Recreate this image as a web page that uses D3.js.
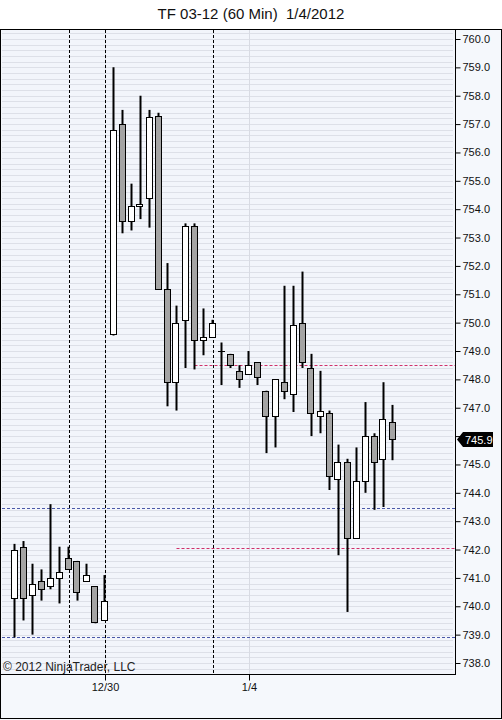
<!DOCTYPE html>
<html><head><meta charset="utf-8">
<script src="https://cdn.jsdelivr.net/npm/d3@7"></script>
<style>html,body{margin:0;padding:0;background:#fff;}svg{display:block;font-family:"Liberation Sans",Arial,sans-serif;}</style>
</head><body>
<svg id="c" width="502" height="720"></svg>
<script>
// Data (60 min bars, TF 03-12)
const opens  = [740.3,742.1,740.4,740.9,740.7,741.0,741.7,741.6,740.9,740.7,739.5,749.6,757.0,753.6,754.1,754.4,757.3,751.2,747.9,750.1,753.4,749.4,749.5,749.0,748.9,748.3,748.2,748.6,747.6,746.7,747.9,747.5,750.0,748.4,746.7,746.8,744.5,745.1,742.4,744.4,746.0,745.2,746.5];
const highs  = [742.2,742.3,741.5,741.3,743.6,742.1,742.1,741.6,741.5,740.7,741.1,759.0,757.5,754.9,758.0,757.5,757.4,752.1,750.6,753.5,753.5,750.5,750.1,749.3,748.9,748.5,749.0,748.6,747.6,748.0,751.3,751.3,751.8,748.9,748.3,746.9,745.7,745.2,745.6,747.2,746.1,747.9,747.1];
const lows   = [738.9,739.5,739.0,740.2,740.6,740.1,741.3,740.2,740.9,739.4,739.5,749.55,753.15,753.25,753.65,753.35,751.15,747.05,746.9,748.4,748.35,748.85,749.5,747.8,748.4,747.7,748.2,747.8,745.4,745.6,747.3,746.85,748.4,746.0,746.1,744.1,741.8,739.8,742.4,744.0,743.4,743.5,745.15];
const closes = [742.0,740.3,740.8,740.6,741.0,741.2,741.3,740.5,741.1,739.45,740.2,756.8,753.6,754.1,754.2,757.25,751.2,747.9,750.0,753.4,749.4,749.5,750.0,749.0,748.5,748.0,748.5,748.1,746.7,748.0,747.6,749.9,748.6,746.8,746.9,744.6,745.1,742.4,744.4,746.0,745.1,746.6,745.9];
const yTicks = d3.range(738, 760.001, 1);
const xTickIdx = [10, 26];
const xTickLabels = ["12/30", "1/4"];
const sessionBreaks = [6, 10, 22];
const blueLines = [743.45, 738.93];
const redLines = [{price: 748.52, from: 20}, {price: 742.04, from: 18}];
const lastPrice = 745.9;
const title = "TF 03-12 (60 Min)  1/4/2012";
const copyright = "\u00A9 2012 NinjaTrader, LLC";

const svg = d3.select("#c");
const L = 2, R = 455, T = 30, B = 674;
const x = d3.scaleLinear().domain([0, 42]).range([14.5, 392.5]);
const y = d3.scaleLinear().domain([738, 760]).range([663, 39]);

// backgrounds
svg.append("rect").attr("x",0).attr("y",0).attr("width",502).attr("height",720).attr("fill","#f5f8fc");
svg.append("rect").attr("x",0).attr("y",0).attr("width",502).attr("height",29).attr("fill","#ffffff");
svg.append("rect").attr("x",L).attr("y",T).attr("width",R-L).attr("height",B-T).attr("fill","#f2f5fb");

// horizontal grid every 0.2
const gridVals = d3.range(0, 121).map(k => 737.6 + k*0.2);
svg.append("g").selectAll("line").data(gridVals.filter(v => y(v) > T+1 && y(v) < B-1)).join("line")
  .attr("x1", L).attr("x2", R-2).attr("y1", d => Math.round(y(d))+0.5).attr("y2", d => Math.round(y(d))+0.5)
  .attr("stroke", "#dde0e8").attr("stroke-width", 1);
// vertical grid at time ticks
svg.append("g").selectAll("line").data(xTickIdx).join("line")
  .attr("x1", d => Math.round(x(d))+0.5).attr("x2", d => Math.round(x(d))+0.5).attr("y1", T).attr("y2", B)
  .attr("stroke", "#d8dbe3");

// blue dashed lines
svg.append("g").selectAll("line").data(blueLines).join("line")
  .attr("x1", L).attr("x2", R).attr("y1", d => Math.round(y(d))+0.5).attr("y2", d => Math.round(y(d))+0.5)
  .attr("stroke", "#4a58a8").attr("stroke-dasharray", "3,2");
// red dashed lines
svg.append("g").selectAll("line").data(redLines).join("line")
  .attr("x1", d => x(d.from)).attr("x2", R).attr("y1", d => Math.round(y(d.price))+0.5).attr("y2", d => Math.round(y(d.price))+0.5)
  .attr("stroke", "#d0306a").attr("stroke-width", 1.2).attr("stroke-dasharray", "3,2");

// session break dashed verticals
svg.append("g").selectAll("line").data(sessionBreaks).join("line")
  .attr("x1", d => Math.round(x(d))+0.5).attr("x2", d => Math.round(x(d))+0.5).attr("y1", T).attr("y2", B)
  .attr("stroke", "#000").attr("stroke-dasharray", "3,2");

// candles
const bars = d3.range(opens.length).map(i => ({i, o: opens[i], h: highs[i], l: lows[i], c: closes[i]}));
const g = svg.append("g");
g.selectAll("line.wick").data(bars).join("line").attr("class","wick")
  .attr("x1", d => x(d.i)).attr("x2", d => x(d.i))
  .attr("y1", d => y(d.h)).attr("y2", d => y(d.l))
  .attr("stroke", "#000").attr("stroke-width", 2);
g.selectAll("rect.body").data(bars).join("rect").attr("class","body")
  .attr("x", d => Math.round(x(d.i)) - 3.5)
  .attr("y", d => Math.round(y(Math.max(d.o, d.c))) + 0.5)
  .attr("width", 6)
  .attr("height", d => Math.max(0.01, Math.round(y(Math.min(d.o, d.c))) - Math.round(y(Math.max(d.o, d.c)))))
  .attr("fill", d => d.c > d.o ? "#ffffff" : (d.c < d.o ? "#a4a4a4" : "#000"))
  .attr("stroke", "#000").attr("stroke-width", 1);

// plot border lines
svg.append("line").attr("x1",0).attr("x2",502).attr("y1",29.5).attr("y2",29.5).attr("stroke","#000");
svg.append("line").attr("x1",0.5).attr("x2",0.5).attr("y1",29).attr("y2",719).attr("stroke","#000");
svg.append("line").attr("x1",501.5).attr("x2",501.5).attr("y1",29).attr("y2",719).attr("stroke","#000");
svg.append("line").attr("x1",0).attr("x2",502).attr("y1",718.5).attr("y2",718.5).attr("stroke","#000");

// y axis (the label under the last-price marker is hidden, as in the original)
const yAxis = d3.axisRight(y).tickValues(yTicks)
  .tickFormat(d => Math.abs(d - lastPrice) < 0.5 ? "" : d3.format(".1f")(d))
  .tickSize(5).tickPadding(2).tickSizeOuter(0);
const ya = svg.append("g").attr("transform", `translate(${R+0.5},0)`).call(yAxis);
ya.select(".domain").remove();
ya.selectAll("text").attr("font-size", 11).attr("fill", "#111").attr("font-family", '"Liberation Sans",Arial,sans-serif');
ya.selectAll("line").attr("stroke", "#000");
svg.append("line").attr("x1", R+0.5).attr("x2", R+0.5).attr("y1", T).attr("y2", B).attr("stroke","#000");

// x axis
svg.append("line").attr("x1", 0).attr("x2", R+1).attr("y1", B+0.5).attr("y2", B+0.5).attr("stroke","#000");
const xAxis = d3.axisBottom(x).tickValues(xTickIdx).tickFormat((d,k) => xTickLabels[k]).tickSize(6).tickPadding(3).tickSizeOuter(0);
const xa = svg.append("g").attr("transform", `translate(0.5,${B+0.5})`).call(xAxis);
xa.select(".domain").remove();
xa.selectAll("text").attr("font-size", 11).attr("fill", "#111").attr("font-family", '"Liberation Sans",Arial,sans-serif');
xa.selectAll("line").attr("stroke", "#000");

// title
svg.append("text").attr("x", 251).attr("y", 19).attr("text-anchor","middle").attr("font-size", 15)
  .style("white-space","pre").attr("fill","#111").text(title);

// copyright
svg.append("text").attr("x", 3).attr("y", 671).attr("font-size", 12).attr("fill","#222").text(copyright);

// last price marker
const py = Math.round(y(lastPrice)) + 0.5;
svg.append("path").attr("d", `M${R+2},${py} L${R+8},${py-7.5} L${R+38},${py-7.5} L${R+38},${py+7.5} L${R+8},${py+7.5} Z`).attr("fill","#000");
svg.append("text").attr("x", R+10).attr("y", py+4).attr("font-size", 11).attr("fill","#fff").text(d3.format(".1f")(lastPrice));
</script>
</body></html>
